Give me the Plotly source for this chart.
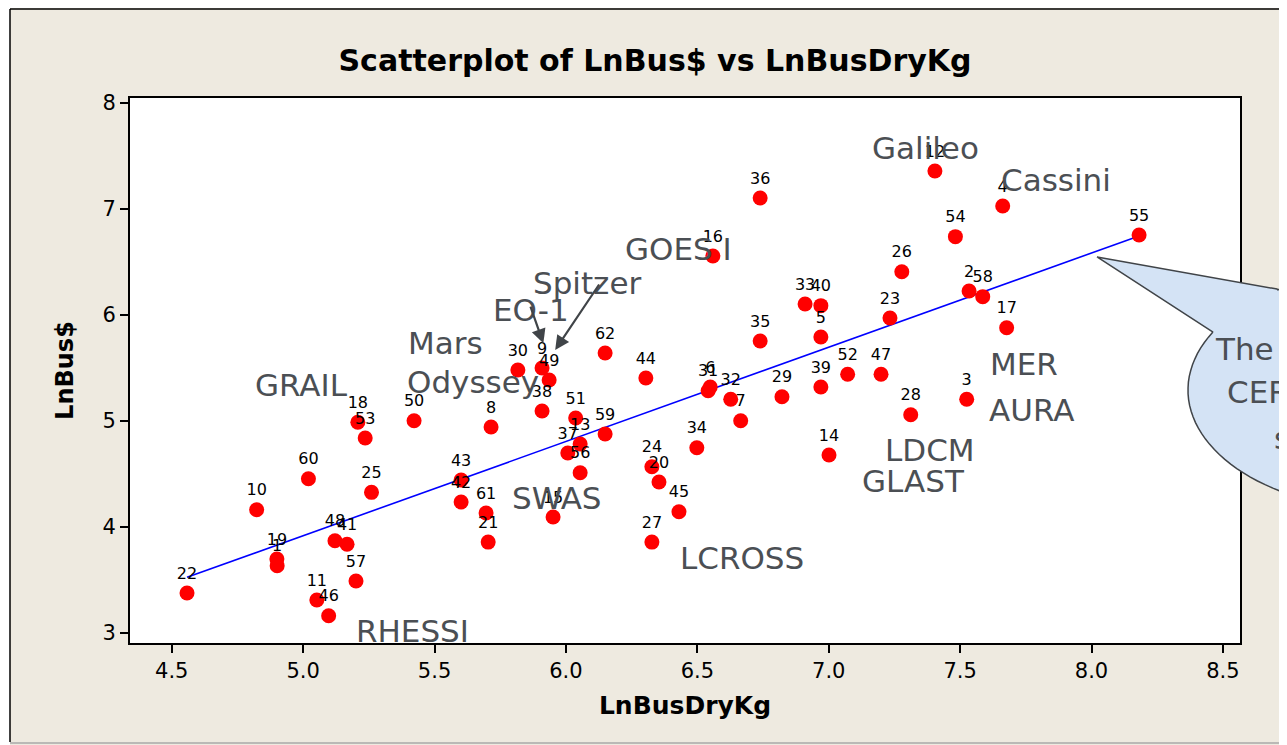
"""
Scatterplot of LnBus$ vs LnBusDryKg (Minitab style) with mission callouts
"""

import numpy as np
import plotly.graph_objects as go

# ---- data ----
point_id = [str(i) for i in range(1, 63)]
lnbusdrykg = [4.901, 7.534, 7.525, 7.662, 6.970, 6.549, 6.665, 5.715, 5.909, 4.823,
              5.052, 7.404, 6.054, 7.001, 5.951, 6.559, 7.677, 5.208, 4.900, 6.354,
              5.704, 4.558, 7.233, 6.327, 5.260, 7.278, 6.327, 7.312, 6.822, 5.817,
              6.541, 6.627, 6.910, 6.498, 6.739, 6.739, 6.007, 5.909, 6.970, 6.970,
              5.167, 5.601, 5.601, 6.304, 6.430, 5.097, 7.199, 5.121, 5.936, 5.422,
              6.037, 7.072, 5.236, 7.482, 8.181, 6.054, 5.201, 7.586, 6.149, 5.020,
              5.696, 6.149]
lnbus = [3.635, 6.226, 5.205, 7.028, 5.792, 5.321, 5.003, 4.943, 5.500, 4.163,
         3.311, 7.358, 4.783, 4.679, 4.094, 6.557, 5.880, 4.988, 3.698, 4.425,
         3.858, 3.377, 5.972, 4.569, 4.327, 6.408, 3.858, 5.059, 5.229, 5.481,
         5.286, 5.205, 6.104, 4.748, 5.755, 7.104, 4.698, 5.094, 5.321, 6.088,
         3.837, 4.236, 4.443, 5.406, 4.144, 3.163, 5.441, 3.871, 5.387, 5.003,
         5.028, 5.441, 4.840, 6.739, 6.755, 4.512, 3.491, 6.173, 4.877, 4.456,
         4.132, 5.642]

# fitted line
fit_intercept = -0.527
fit_slope = 0.889

# mission names written on the chart (x, y in data units)
mission_names = ["Galileo", "Cassini", "GOES I", "Spitzer", "EO-1", "Mars", "Odyssey",
                 "GRAIL", "SWAS", "LCROSS", "RHESSI", "LDCM", "GLAST", "MER", "AURA"]
mission_x = [7.370, 7.865, 6.427, 6.081, 5.868, 5.540, 5.647,
             4.993, 5.966, 6.670, 5.415, 7.386, 7.321, 7.743, 7.770]
mission_y = [7.575, 7.274, 6.623, 6.302, 6.047, 5.736, 5.368,
             5.340, 4.274, 3.708, 3.019, 4.726, 4.434, 5.538, 5.104]

# arrows: (tail x, tail y) -> (tip x, tip y)
arrows = [(5.863, 6.094, 5.914, 5.733),   # EO-1
          (6.130, 6.302, 5.959, 5.670)]   # Spitzer

BEIGE = "#EEEAE0"
GRAY_TXT = "#4B4F54"

# page has an 8px body margin, so the figure is drawn 8px in from the corner
W, H = 1279, 737

fig = go.Figure()

xs = np.array([min(lnbusdrykg), max(lnbusdrykg)])
fig.add_trace(go.Scatter(
    x=xs, y=fit_intercept + fit_slope * xs,
    mode="lines", line=dict(color="#0000FF", width=1.6),
    hoverinfo="skip", showlegend=False
))

fig.add_trace(go.Scatter(
    x=lnbusdrykg, y=lnbus,
    mode="markers+text",
    marker=dict(size=15, color="#FF0000", line=dict(width=0)),
    text=point_id, textposition="top center",
    textfont=dict(family="DejaVu Sans", size=16, color="black"),
    showlegend=False
))

annotations = []
for name, x, y in zip(mission_names, mission_x, mission_y):
    annotations.append(dict(
        x=x, y=y, xref="x", yref="y", text=name, showarrow=False,
        xanchor="center", yanchor="middle",
        font=dict(family="DejaVu Sans", size=31, color=GRAY_TXT)
    ))

for tx, ty, hx, hy in arrows:
    annotations.append(dict(
        x=hx, y=hy, ax=tx, ay=ty, xref="x", yref="y", axref="x", ayref="y",
        text="", showarrow=True, arrowhead=2, arrowsize=1.3, arrowwidth=2.2,
        arrowcolor="#404448"
    ))


# page pixel -> paper helpers for the decorations (plot area 130..1240 x 98..643 on the page)
def px(v):
    return (v - 130) / 1110.0


def py(v):
    return (643 - v) / 545.0


# speech bubble on the right edge
cx, cy, rx, ry = 1388, 390, 200, 120
t0 = np.arctan2((289 - cy) / ry, (1277 - cx) / rx)
t1 = np.arctan2((332 - cy) / ry, (1213 - cx) / rx) + 2 * np.pi
ts = np.linspace(t0, t1, 120)
path = f"M {px(1213):.4f},{py(332):.4f} L {px(1097):.4f},{py(257):.4f} L {px(1277):.4f},{py(289):.4f}"
for t in ts:
    path += f" L {px(cx + rx * np.cos(t)):.4f},{py(cy + ry * np.sin(t)):.4f}"
path += " Z"

shapes = [
    dict(type="path", path=path, xref="paper", yref="paper",
         fillcolor="#D4E3F5", line=dict(color="#404448", width=1.5), layer="above"),
    # white strip left of the outer frame
    dict(type="rect", xref="paper", yref="paper", x0=px(-5), x1=px(10), y0=py(760), y1=py(0),
         fillcolor="white", line=dict(width=0), layer="above"),
    # outer frame
    dict(type="line", xref="paper", yref="paper", x0=px(10), x1=px(1300), y0=py(9), y1=py(9),
         line=dict(color="black", width=1.5), layer="above"),
    dict(type="line", xref="paper", yref="paper", x0=px(10), x1=px(10), y0=py(9), y1=py(742),
         line=dict(color="black", width=1.5), layer="above"),
    dict(type="line", xref="paper", yref="paper", x0=px(10), x1=px(1300), y0=py(743), y1=py(743),
         line=dict(color="#A8A8A8", width=1.5), layer="above"),
]

for txt, lx, ly in [("The", 1213, 349), ("CER", 1225, 392), ("s", 1272, 438)]:
    annotations.append(dict(
        x=px(lx), y=py(ly), xref="paper", yref="paper", text=txt, showarrow=False,
        xanchor="left", yanchor="middle",
        font=dict(family="DejaVu Sans", size=31, color=GRAY_TXT)
    ))

fig.update_layout(
    width=W, height=H,
    margin=dict(l=122, r=47, t=90, b=102),
    paper_bgcolor=BEIGE, plot_bgcolor="white",
    title=dict(text="<b>Scatterplot of LnBus$ vs LnBusDryKg</b>",
               x=(655 - 8) / W, xref="container", xanchor="center",
               y=(H - (60 - 8)) / H, yref="container", yanchor="middle",
               font=dict(family="DejaVu Sans", size=30, color="black")),
    annotations=annotations,
    shapes=shapes,
    showlegend=False
)

fig.update_xaxes(
    range=[4.341, 8.565], tickvals=[4.5, 5.0, 5.5, 6.0, 6.5, 7.0, 7.5, 8.0, 8.5],
    tickformat=".1f", ticks="outside", ticklen=8, tickwidth=2, tickcolor="black",
    showline=True, linecolor="black", linewidth=2, mirror=True,
    showgrid=False, zeroline=False,
    tickfont=dict(family="DejaVu Sans", size=21, color="black"),
    title=dict(text="<b>LnBusDryKg</b>", standoff=14,
               font=dict(family="DejaVu Sans", size=25, color="black"))
)
fig.update_yaxes(
    range=[2.906, 8.047], tickvals=[3, 4, 5, 6, 7, 8],
    ticks="outside", ticklen=8, tickwidth=2, tickcolor="black",
    showline=True, linecolor="black", linewidth=2, mirror=True,
    showgrid=False, zeroline=False,
    tickfont=dict(family="DejaVu Sans", size=21, color="black"),
    title=dict(text="<b>LnBus$</b>", standoff=22,
               font=dict(family="DejaVu Sans", size=24, color="black"))
)

fig.write_html("out.html")
